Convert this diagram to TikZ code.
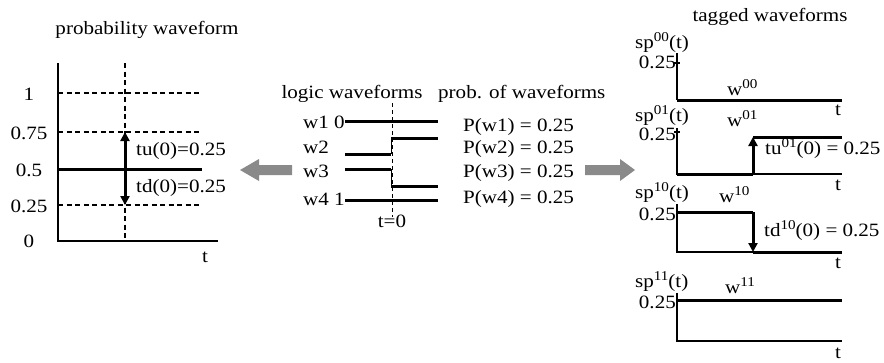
\documentclass[tikz,border=0pt]{standalone}
\usepackage{fontspec}
\setmainfont[FakeStretch=1.12]{Liberation Serif}
\usetikzlibrary{arrows.meta}
\definecolor{arrowgray}{HTML}{8A8A8A}
\newcommand{\sups}[1]{\raisebox{6.5pt}{\fontsize{13.5}{14}\selectfont #1}}
\begin{document}
\begin{tikzpicture}[x=1pt,y=-1pt,
  every node/.style={font=\fontsize{18.8}{22}\selectfont, inner sep=0pt},
  lbl/.style={anchor=base},
  lblw/.style={anchor=base west},
  lble/.style={anchor=base east},
  axisln/.style={line width=1.6pt},
  thinaxis/.style={line width=1.1pt},
  wave/.style={line width=3pt},
  riser/.style={line width=1pt},
  gridln/.style={line width=1.1pt, dash pattern=on 5pt off 3.5pt},
  zeroln/.style={line width=1pt, dash pattern=on 4pt off 3pt},
  tarrow/.style={line width=3pt,-{Triangle[length=9pt,width=9pt]}},
  bigarrow/.style={fill=arrowgray}]
\useasboundingbox (0,0) rectangle (884,362);

% ---------- left: probability waveform ----------
\node[lbl] (ttl1) at (147,34) {probability waveform};
\draw[gridln] (58,93) -- (200,93);
\draw[gridln] (58,132) -- (200,132);
\draw[gridln] (58,205) -- (200,205);
\draw[gridln] (125,63) -- (125,241);
\draw[axisln] (58,63) -- (58,241) -- (218,241);
\draw[wave] (58,169) -- (202,169);
\coordinate (mid) at (125,169);
\coordinate (up) at (125,132);
\coordinate (dn) at (125,205);
\draw[tarrow] (mid) -- (up);
\draw[tarrow] (mid) -- (dn);
\node[lbl] (y1) at (29,100) {1};
\node[lbl] (y075) at (29,139) {0.75};
\node[lbl] (y05) at (29,176) {0.5};
\node[lbl] (y025) at (29,212) {0.25};
\node[lbl] (y0) at (29,247) {0};
\node[lblw] (tu) at (136,155) {tu(0)=0.25};
\node[lblw] (td) at (136,192) {td(0)=0.25};
\node[lbl] (tl) at (205,262) {t};

% ---------- left big arrow ----------
\fill[bigarrow] (292,165) -- (259,165) -- (259,159) -- (240,170) -- (259,181) -- (259,175) -- (292,175) -- cycle;

% ---------- middle: logic waveforms ----------
\node[lbl] (ttl2) at (352,98) {logic waveforms};
\node[lblw] (ttl3) at (438,98) {prob. of waveforms};
\node[lblw] (w1) at (303,128) {w1 0};
\node[lblw] (w2) at (303,153) {w2};
\node[lblw] (w3) at (303,177) {w3};
\node[lblw] (w4) at (303,205) {w4 1};
\draw[zeroln] (392,103) -- (392,217);
\draw[wave] (345,121) -- (438,121);
\draw[wave] (345,154) -- (391,154);
\draw[riser] (391,154) -- (391,138);
\draw[wave] (391,138) -- (438,138);
\draw[wave] (345,169) -- (391,169);
\draw[riser] (391,169) -- (391,186);
\draw[wave] (391,186) -- (438,186);
\draw[wave] (345,200) -- (438,200);
\node[lbl] (t0) at (392,227) {t=0};
\node[lblw] (p1) at (463,131) {P(w1) = 0.25};
\node[lblw] (p2) at (463,153) {P(w2) = 0.25};
\node[lblw] (p3) at (463,177) {P(w3) = 0.25};
\node[lblw] (p4) at (463,203) {P(w4) = 0.25};

% ---------- right big arrow ----------
\fill[bigarrow] (585,165) -- (620,165) -- (620,159) -- (635,170) -- (620,181) -- (620,175) -- (585,175) -- cycle;

% ---------- right: tagged waveforms ----------
\node[lbl] (ttl4) at (770,21) {tagged waveforms};

% plot 00
\draw[thinaxis] (677,53) -- (677,100);
\draw[thinaxis] (674,63) -- (680,63);
\draw[wave] (677,100) -- (842,100);
\node[lblw] (sp00) at (635,48) {sp\sups{00}(t)};
\node[lble] (v00) at (676,68) {0.25};
\node[lblw] (w00) at (727,95) {w\sups{00}};
\node[lbl] (t00) at (838,115) {t};

% plot 01
\draw[thinaxis] (677,128) -- (677,174) -- (842,174);
\draw[thinaxis] (674,132) -- (680,132);
\draw[wave] (677,174) -- (753,174);
\draw[tarrow] (753,174) -- (753,137);
\draw[wave] (753,137) -- (842,137);
\node[lblw] (sp01) at (635,121) {sp\sups{01}(t)};
\node[lble] (v01) at (676,140) {0.25};
\node[lblw] (w01) at (727,126) {w\sups{01}};
\node[lblw] (tu01) at (765,154) {tu\sups{01}(0) = 0.25};
\node[lbl] (t01) at (838,190) {t};

% plot 10
\draw[thinaxis] (677,204) -- (677,252) -- (842,252);
\draw[wave] (677,212) -- (753,212);
\draw[tarrow] (753,212) -- (753,252);
\draw[wave] (753,252) -- (842,252);
\node[lblw] (sp10) at (635,198) {sp\sups{10}(t)};
\node[lble] (v10) at (676,220) {0.25};
\node[lblw] (w10) at (719,202) {w\sups{10}};
\node[lblw] (td10) at (764,236) {td\sups{10}(0) = 0.25};
\node[lbl] (t10) at (838,268) {t};

% plot 11
\draw[thinaxis] (677,293) -- (677,341) -- (842,341);
\draw[wave] (677,300) -- (842,300);
\node[lblw] (sp11) at (635,287) {sp\sups{11}(t)};
\node[lble] (v11) at (676,308) {0.25};
\node[lblw] (w11) at (725,293) {w\sups{11}};
\node[lbl] (t11) at (838,358) {t};
\end{tikzpicture}
\end{document}
